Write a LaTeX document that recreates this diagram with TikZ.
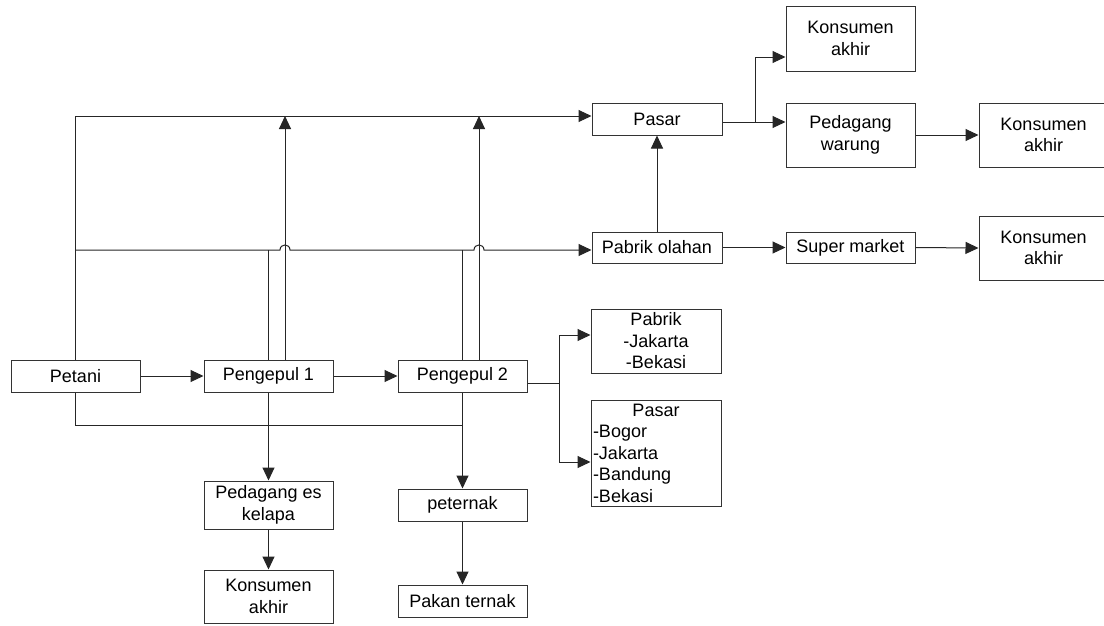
\documentclass[tikz,border=0pt]{standalone}
\usepackage{fontspec}
\setmainfont{Liberation Sans}
\usetikzlibrary{arrows.meta,calc}
\begin{document}
\begin{tikzpicture}[x=1pt,y=-1pt,
  box/.style={draw=black!80, line width=1pt, rectangle, inner sep=0pt, align=center,
              font=\fontsize{18}{21.5}\selectfont},
  sa/.style={minimum width=129pt, minimum height=32pt},
  sb/.style={minimum width=129pt, minimum height=64pt},
  ln/.style={draw=black!85, line width=1pt},
  arr/.style={ln, -{Triangle[length=13pt,width=12pt]}}]
\fill[white] (0,0) rectangle (1104,625);
\useasboundingbox (0,0) rectangle (1104,625);

% nodes
\node[box,sa] (petani) at (75.5,376) {Petani};
\node[box,sa] (p1) at (268.5,376) {Pengepul 1};
\node[box,sa] (p2) at (462.5,376) {Pengepul 2};
\node[box,sa,minimum width=130pt] (pasarTop) at (657,119) {Pasar};
\node[box,sa,minimum width=130pt,minimum height=31pt] (pabrikOlahan) at (657,247.5) {Pabrik olahan};
\node[box,sa,minimum height=31pt] (superMarket) at (850.5,247.5) {Super market};
\node[box,sb,minimum height=65pt] (konsTop) at (850.5,38.5) {Konsumen\\akhir};
\node[box,sb] (warung) at (850.5,135) {Pedagang\\warung};
\node[box,sb] (konsRight) at (1043.5,135) {Konsumen\\akhir};
\node[box,sb] (konsRight2) at (1043.5,248) {Konsumen\\akhir};
\node[box,sb,minimum width=130pt] (pabrikList) at (656,341) {Pabrik\\-Jakarta\\-Bekasi};
\node[box,minimum width=130pt,minimum height=106pt,text width=126pt,align=left] (pasarList) at (656,453)
  {\makebox[126pt]{Pasar}\\-Bogor\\-Jakarta\\-Bandung\\-Bekasi};
\node[box,sa,minimum height=48pt] (esKelapa) at (268.5,505) {Pedagang es\\kelapa};
\node[box,sa,minimum height=53pt] (konsBottom) at (268.5,596.5) {Konsumen\\akhir};
\node[box,sa] (peternak) at (462.5,505) {peternak};
\node[box,sa] (pakan) at (462.5,601) {Pakan ternak};

% helper coordinates
\coordinate (t0) at (75.5,116);
\coordinate (j0) at (75.5,250);
\coordinate (bl) at (75.5,425);
\coordinate (br) at (559,383);
\coordinate (brA) at (559,335);
\coordinate (brB) at (559,462);
\coordinate (br2) at (755,122);
\coordinate (kt) at (755,57);

% main chain
\draw[arr] (petani.east) -- (p1.west);
\draw[arr] (p1.east) -- (p2.west);

% top line to Pasar
\draw[arr] (petani.north) |- (pasarTop.west |- t0);
\draw[arr] ([xshift=16.5pt]p1.north) -- ([xshift=16.5pt]p1.north |- t0);
\draw[arr] ([xshift=16.5pt]p2.north) -- ([xshift=16.5pt]p2.north |- t0);

% line to Pabrik olahan with hops
\draw[ln] (p1.north) -- (p1.north |- j0);
\draw[ln] (p2.north) -- (p2.north |- j0);
\draw[arr] (j0) -- (280,250) .. controls (280,243.3) and (290,243.3) .. (290,250)
  -- (474,250) .. controls (474,243.3) and (484,243.3) .. (484,250)
  -- (pabrikOlahan.west |- j0);

% bottom line
\draw[ln] (petani.south) |- (p2.south |- bl);

% downward arrows
\draw[arr] (p1.south) -- (esKelapa.north);
\draw[arr] (esKelapa.south) -- (konsBottom.north);
\draw[arr] (p2.south) -- (peternak.north);
\draw[arr] (peternak.south) -- (pakan.north);

% Pengepul 2 branch
\draw[ln] (p2.east |- br) -- (br);
\draw[ln] (brA) -- (brB);
\draw[arr] (brA) -- (pabrikList.west |- brA);
\draw[arr] (brB) -- (pasarList.west |- brB);

% Pasar branch
\draw[ln] (pasarTop.east |- br2) -- (br2);
\draw[arr] (br2) -- (warung.west |- br2);
\draw[arr] (br2) |- (konsTop.west |- kt);
\draw[arr] (warung.east) -- (konsRight.west);

% Pabrik olahan
\draw[arr] (pabrikOlahan.north) -- (pasarTop.south);
\draw[arr] (pabrikOlahan.east) -- (superMarket.west);
\draw[arr] (superMarket.east) -- (konsRight2.west);
\end{tikzpicture}
\end{document}
